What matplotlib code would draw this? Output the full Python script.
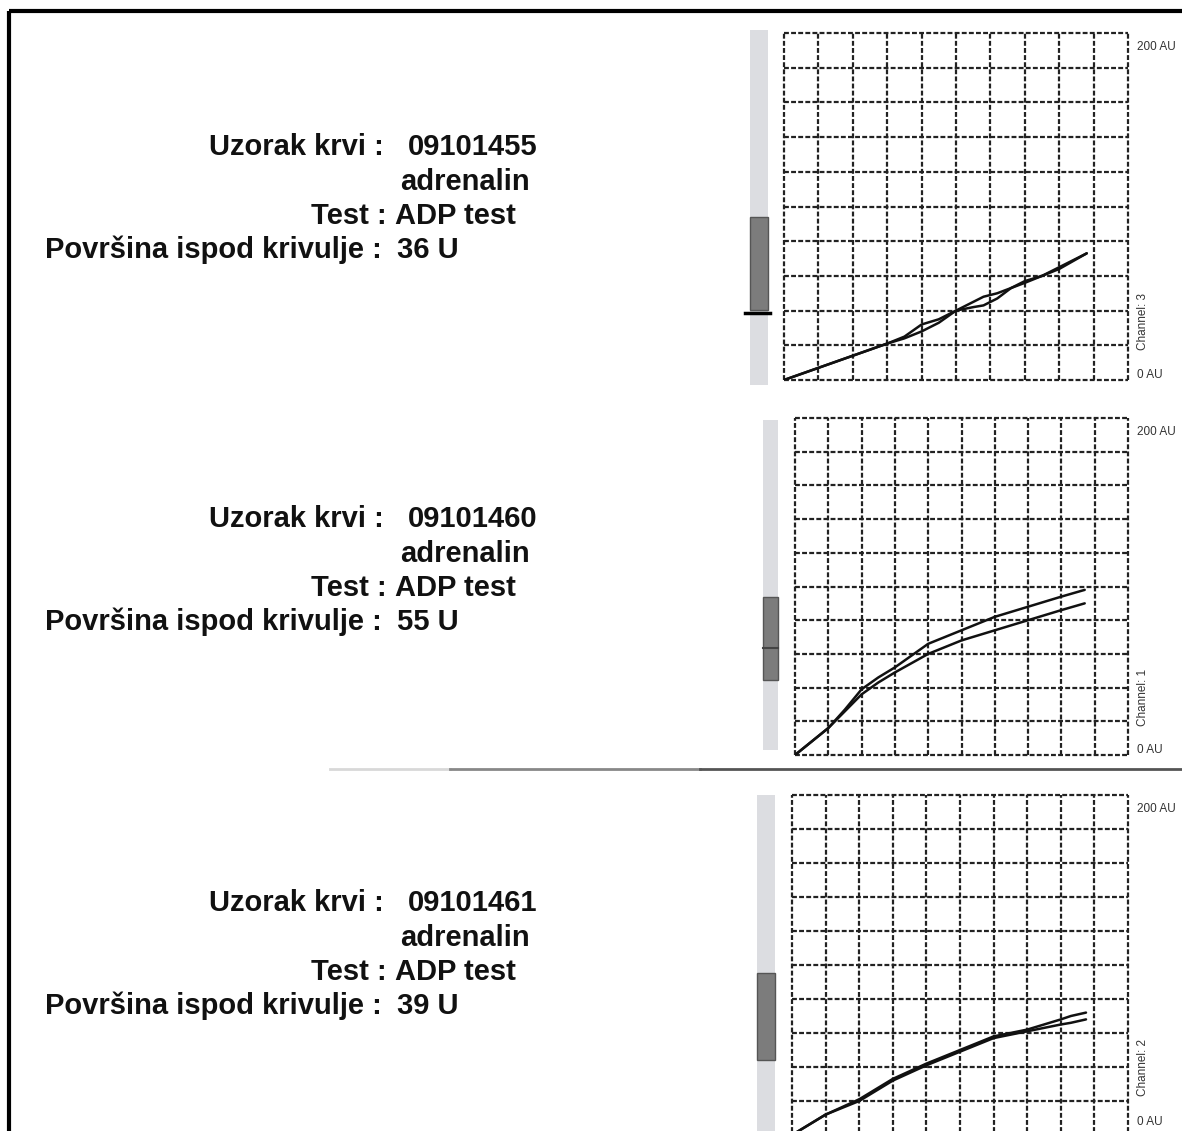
import matplotlib
matplotlib.use("Agg")
import matplotlib.pyplot as plt
from matplotlib.patches import Rectangle

# ---------------- data ----------------
sample_ids = ["09101455", "09101460", "09101461"]
reagents = ["adrenalin", "adrenalin", "adrenalin"]
tests = ["ADP test", "ADP test", "ADP test"]
areas = ["36 U", "55 U", "39 U"]
channels = ["Channel: 3", "Channel: 1", "Channel: 2"]
y_top_label = "200 AU"
y_bottom_label = "0 AU"

# panel 1 (Channel 3) – x in grid cells, y in AU
p1_xa = [0, 1, 2, 3, 3.5, 4, 4.5, 5, 5.5, 5.8, 6.2, 6.6, 7, 7.5, 8, 8.8]
p1_ya = [0, 7, 14, 21, 25, 32, 35, 40, 45, 48, 50, 53, 57, 60, 65, 73]
p1_xb = [0, 1, 2, 3, 3.5, 4, 4.5, 5, 5.5, 5.8, 6.2, 6.6, 7, 7.5, 8, 8.8]
p1_yb = [0, 7, 14, 21, 24, 28, 33, 40, 42, 43, 47, 53, 56, 60, 64, 73]

# panel 2 (Channel 1)
p2_x = [0, 0.5, 1, 1.5, 2, 2.5, 3, 4, 5, 6, 7, 8, 8.7]
p2_ya = [0, 8, 16, 27, 39, 46, 52, 66, 74, 82, 88, 94, 98]
p2_yb = [0, 8, 16, 26, 36, 43, 49, 60, 68, 74, 80, 86, 90]

# panel 3 (Channel 2)
p3_x = [0, 1, 2, 3, 4, 5, 6, 7, 8, 8.3, 8.75]
p3_ya = [0, 12, 21, 33, 42, 50, 58, 62, 68, 70, 72]
p3_yb = [0, 12, 20, 32, 41, 49, 57, 61, 65, 66, 68]

curves = [
    [(p1_xa, p1_ya), (p1_xb, p1_yb)],
    [(p2_x, p2_ya), (p2_x, p2_yb)],
    [(p3_x, p3_ya), (p3_x, p3_yb)],
]

# ---------------- layout (pixels) ----------------
W, H = 1182, 1131
grid_boxes = [(784, 33, 1128, 380), (795, 418, 1128, 755), (792, 795, 1128, 1135)]
side_boxes = [(750, 30, 768, 385), (763, 420, 778, 750), (757, 795, 775, 1135)]
dark_boxes = [(750, 217, 768, 310), (763, 597, 778, 680), (757, 973, 775, 1060)]
text_tops = [155, 527, 911]

fig = plt.figure(figsize=(W / 100, H / 100), dpi=100)
fig.patch.set_facecolor("white")

bg = fig.add_axes([0, 0, 1, 1])
bg.set_xlim(0, W)
bg.set_ylim(H, 0)
bg.axis("off")

# outer frame (extends beyond the image on right/bottom)
bg.add_patch(Rectangle((9, 11), W + 50, H + 50, fill=False, lw=3, ec="black"))

# separator line between panel 2 and 3
bg.plot([330, 450], [769, 769], color="#d8d8d8", lw=2)
bg.plot([450, 700], [769, 769], color="#888888", lw=2)
bg.plot([700, 1182], [769, 769], color="#555555", lw=2)

bold = dict(family="Liberation Sans", weight="bold", fontsize=21, color="#111111")
lab_x = 384
for i in range(3):
    y0 = text_tops[i]
    step = 34.5
    bg.text(lab_x, y0, "Uzorak krvi :", ha="right", va="baseline", **bold)
    bg.text(408, y0, sample_ids[i], ha="left", va="baseline", **bold)
    bg.text(400, y0 + step, reagents[i], ha="left", va="baseline", **bold)
    bg.text(lab_x + 3, y0 + 2 * step, "Test :", ha="right", va="baseline", **bold)
    bg.text(395, y0 + 2 * step, tests[i], ha="left", va="baseline", **bold)
    bg.text(lab_x - 2, y0 + 3 * step, "Površina ispod krivulje :", ha="right", va="baseline", **bold)
    bg.text(397, y0 + 3 * step, areas[i], ha="left", va="baseline", **bold)

# side bars
for i in range(3):
    x0, y0, x1, y1 = side_boxes[i]
    bg.add_patch(Rectangle((x0, y0), x1 - x0, y1 - y0, fc="#dcdde1", ec="none"))
    x0, y0, x1, y1 = dark_boxes[i]
    bg.add_patch(Rectangle((x0, y0), x1 - x0, y1 - y0, fc="#7c7c7c", ec="#555555", lw=1))
bg.plot([745, 770], [313, 313], color="black", lw=2.5)
bg.plot([763, 778], [648, 648], color="#444444", lw=1.5)

small = dict(family="Liberation Sans", fontsize=8.5, color="#333333")
for i in range(3):
    x0, y0, x1, y1 = grid_boxes[i]
    ax = fig.add_axes([x0 / W, 1 - y1 / H, (x1 - x0) / W, (y1 - y0) / H])
    ax.set_xlim(0, 10)
    ax.set_ylim(0, 200)
    ax.set_facecolor("white")
    for s in ax.spines.values():
        s.set_visible(False)
    ax.set_xticks([])
    ax.set_yticks([])
    for k in range(11):
        ax.axvline(k, color="#222222", lw=1.6, ls=(0, (2.2, 1.0)), clip_on=False)
        ax.axhline(k * 20, color="#222222", lw=1.6, ls=(0, (2.2, 1.0)), clip_on=False)
    for xs, ys in curves[i]:
        ax.plot(xs, ys, color="#111111", lw=1.8, solid_capstyle="round",
                solid_joinstyle="round")
    # labels on the right
    bg.text(1137, y0 + 14, y_top_label, ha="left", va="center", **small)
    bg.text(1137, min(y1 - 5, 1122), y_bottom_label, ha="left", va="center", **small)
    bg.text(1143, min(y1, 1125) - 58, channels[i], ha="center", va="center",
            rotation=90, **small)

fig.savefig("out.png", dpi=100, facecolor="white")
